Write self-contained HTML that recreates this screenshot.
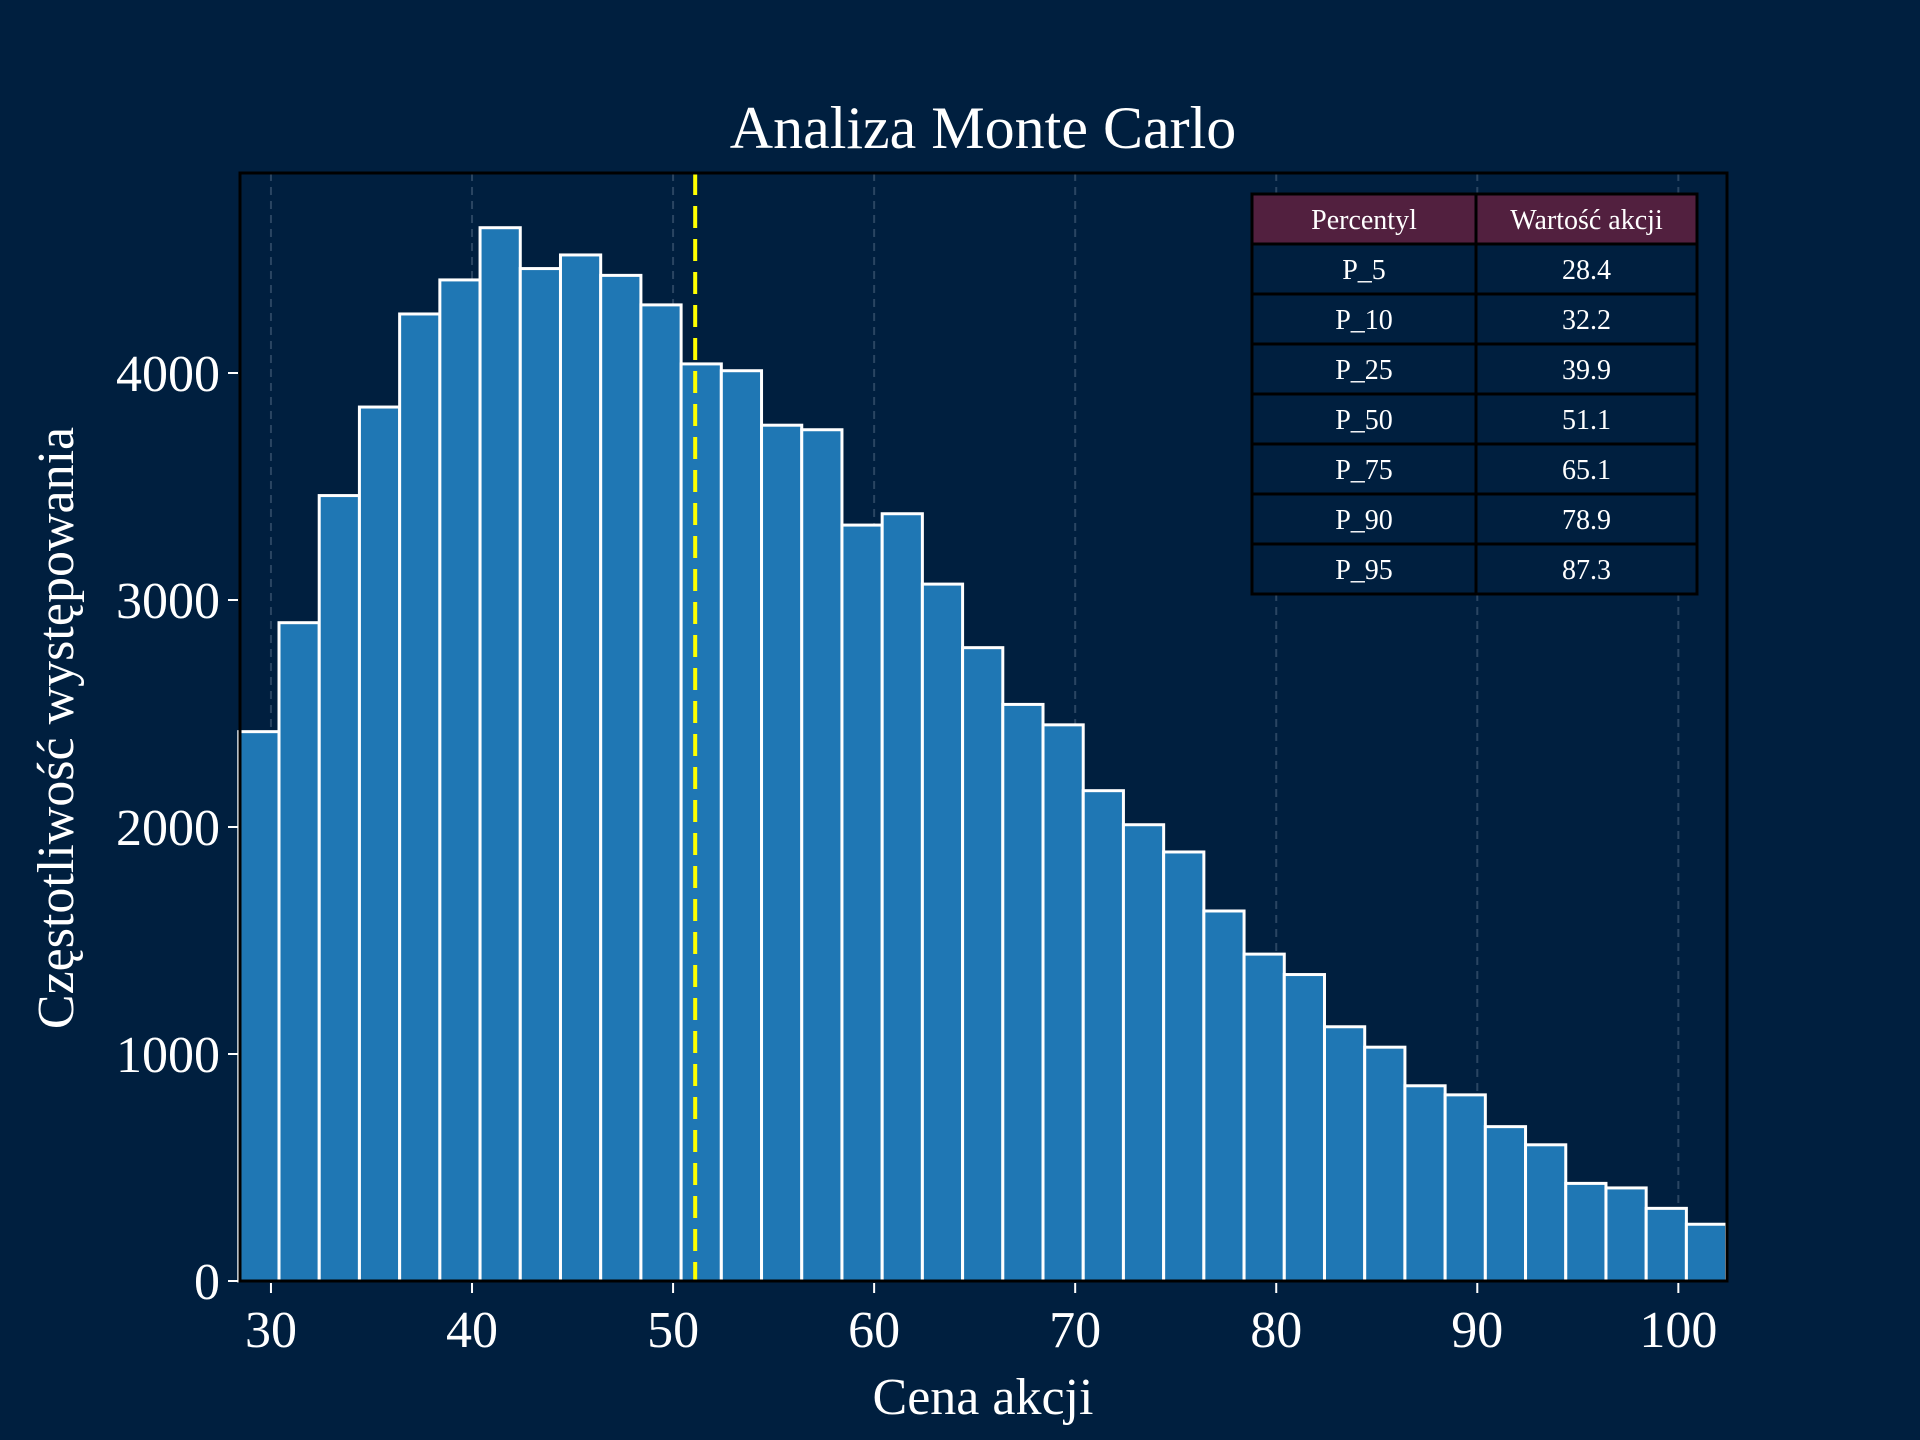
<!DOCTYPE html>
<html><head><meta charset="utf-8"><style>
html,body{margin:0;padding:0;background:#001f3f;}
svg{display:block;font-family:"Liberation Serif",serif;}
</style></head><body>
<svg id="chart" width="1920" height="1440" viewBox="0 0 1920 1440">
<rect width="1920" height="1440" fill="#001f3f"/>
<g id="grid"></g><g id="bars"></g><g id="median"></g><g id="axes"></g><g id="table"></g>
<text x="983" y="148" font-size="60" fill="#fff" text-anchor="middle">Analiza Monte Carlo</text>
<text x="983" y="1414" font-size="52" fill="#fff" text-anchor="middle">Cena akcji</text>
<text x="0" y="0" font-size="52" fill="#fff" text-anchor="middle" transform="translate(73,728) rotate(-90)">Częstotliwość występowania</text>
</svg>
<script>
const binStart = 28.4;
const binWidth = 2;
const counts = [2420,2900,3460,3850,4260,4410,4640,4460,4520,4430,4300,4040,4010,3770,3750,3330,3380,3070,2790,2540,2450,2160,2010,1890,1630,1440,1350,1120,1030,860,820,680,600,430,410,320,250];
const xTicks = [30,40,50,60,70,80,90,100];
const yTicks = [0,1000,2000,3000,4000];
const medianValue = 51.1;
const pctLabels = ["P_5","P_10","P_25","P_50","P_75","P_90","P_95"];
const pctValues = ["28.4","32.2","39.9","51.1","65.1","78.9","87.3"];

const L=240,R=1727,T=173,B=1281,XMIN=28.46,XMAX=102.42,YMAX=4881;
const X=v=>L+(v-XMIN)/(XMAX-XMIN)*(R-L);
const Y=v=>B-v/YMAX*(B-T);
const NS="http://www.w3.org/2000/svg";
function mk(tag,attrs,parent){const e=document.createElementNS(NS,tag);for(const k in attrs)e.setAttribute(k,attrs[k]);parent.appendChild(e);return e;}
const grid=document.getElementById('grid'),bars=document.getElementById('bars'),axes=document.getElementById('axes'),med=document.getElementById('median'),tbl=document.getElementById('table');

xTicks.forEach(t=>{
  const g=mk('line',{x1:X(t),x2:X(t),y1:T,y2:B,stroke:'#2a4562','stroke-width':2,'stroke-dasharray':'8,6'},grid);
  
  
});
counts.forEach((c,i)=>{
  const x0=X(binStart+i*binWidth),x1=X(binStart+(i+1)*binWidth);
  const r=mk('rect',{x:x0,y:Y(c),width:x1-x0,height:B-Y(c),fill:'#1f77b4',stroke:'#fff','stroke-width':3},bars);
  
  
});
const ml=mk('line',{x1:X(medianValue),x2:X(medianValue),y1:T,y2:B,stroke:'#ffff00','stroke-width':4,'stroke-dasharray':'22,11'},med);



const frame=mk('rect',{x:L,y:T,width:R-L,height:B-T,fill:'none',stroke:'#000','stroke-width':3},axes);


xTicks.forEach(t=>{
  mk('line',{x1:X(t),x2:X(t),y1:B+2,y2:B+12,stroke:'#fff','stroke-width':2},axes);
  const tx=mk('text',{x:X(t),y:B+66,'font-size':52,fill:'#fff','text-anchor':'middle'},axes);
  tx.textContent=t;
  
  
});
yTicks.forEach(t=>{
  mk('line',{x1:L-12,x2:L-2,y1:Y(t),y2:Y(t),stroke:'#fff','stroke-width':2},axes);
  const tx=mk('text',{x:L-20,y:Y(t)+18,'font-size':52,fill:'#fff','text-anchor':'end'},axes);
  tx.textContent=t;
  
  
});

// table
const TX=1252,TY=194,C1=1476,TR=1697,RH=50;
const rows=[["Percentyl","Wartość akcji"]].concat(pctLabels.map((p,i)=>[p,pctValues[i]]));
rows.forEach((row,i)=>{
  const y=TY+i*RH, head=i===0;
  [[TX,C1],[C1,TR]].forEach((c,j)=>{
    const cell=mk('rect',{x:c[0],y:y,width:c[1]-c[0],height:RH,fill:head?'#52203f':'#001f3f',stroke:'#000','stroke-width':3},tbl);
    
    
    const t=mk('text',{x:(c[0]+c[1])/2,y:y+35,'font-size':28,fill:'#fff','text-anchor':'middle'},tbl);
    t.textContent=row[j];
    
    
  });
});
</script>
</body></html>
